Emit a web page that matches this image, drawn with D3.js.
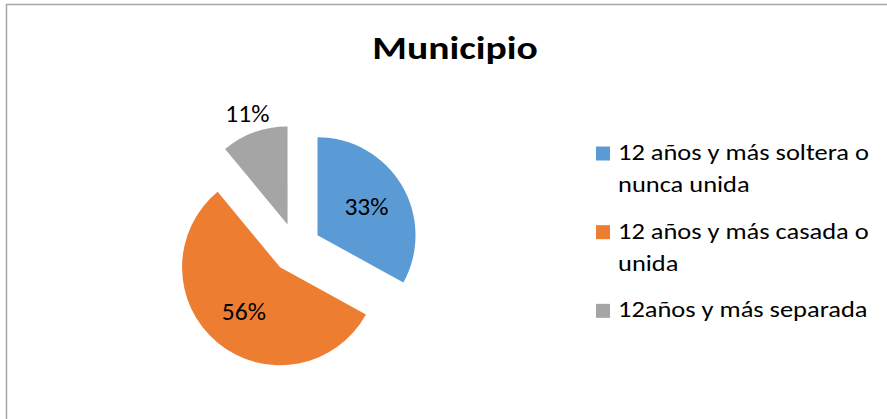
<!DOCTYPE html>
<html>
<head>
<meta charset="utf-8">
<script src="https://cdn.jsdelivr.net/npm/d3@7"></script>
<style>
    body { margin: 0; background: #fff; }
    svg { display: block; font-family: Carlito, Calibri, Lato, sans-serif; }
</style>
</head>
<body>
<svg id="chart" width="887" height="419"></svg>
<script>

// ========== DATA ==========

const categories = ["soltera", "casada", "separada"];
const values = [33, 56, 11];
const legendLabels = [
    ["12 años y más soltera o", "nunca unida"],
    ["12 años y más casada o", "unida"],
    ["12años y más separada"]
];
const chartTitle = "Municipio";

const colors = d3.scaleOrdinal()
    .domain(categories)
    .range(['#5B9BD5', '#ED7D31', '#A5A5A5']);


// ========== MAIN CODE ==========

const cx = 296, cy = 248;
const radius = 98;
const explode = 25;

const svg = d3.select('#chart');

// chart border (cut off at right and bottom)
svg.append('rect')
    .attr('x', 6.5)
    .attr('y', 4.5)
    .attr('width', 950)
    .attr('height', 500)
    .attr('fill', 'none')
    .attr('stroke', '#a6a6a6')
    .attr('stroke-width', 1.5);

// the original text is a bit stretched sideways
svg.append('text')
    .attr('transform', 'translate(455,59) scale(1.2,1)')
    .attr('text-anchor', 'middle')
    .style('font-size', '33px')
    .style('font-weight', 'bold')
    .attr('fill', '#000')
    .text(chartTitle);

const pie = d3.pie()
    .sort(null)
    .value((d, i) => values[i]);

const arc = d3.arc()
    .innerRadius(0)
    .outerRadius(radius);

const arcs = pie(categories);

function offset(d, dist) {
    let mid = (d.startAngle + d.endAngle) / 2;
    return [Math.sin(mid) * dist, -Math.cos(mid) * dist];
}

const g = svg.append('g')
    .attr('transform', `translate(${cx},${cy})`);

const slices = g.selectAll('g.slice')
    .data(arcs)
    .enter().append('g')
    .attr('class', 'slice')
    .attr('transform', d => `translate(${offset(d, explode)})`);

slices.append('path')
    .attr('d', arc)
    .attr('fill', d => colors(d.data));

// small slices get their label outside
slices.append('text')
    .attr('transform', function (d) {
        let small = (d.endAngle - d.startAngle) < 1;
        return `translate(${offset(d, small ? radius * 1.21 : radius * 0.58)})`;
    })
    .attr('text-anchor', 'middle')
    .attr('dy', '0.35em')
    .style('font-size', '25.5px')
    .attr('fill', '#000')
    .text(d => Math.round(d.value / d3.sum(values) * 100) + '%');

// Legend
const legendY = d3.scaleBand()
    .domain(categories)
    .range([127, 363]);

const legend = svg.selectAll('g.legend')
    .data(categories)
    .enter().append('g')
    .attr('class', 'legend')
    .attr('transform', d => `translate(596,${legendY(d)})`);

legend.append('rect')
    .attr('x', 0)
    .attr('y', 19.5)
    .attr('width', 14)
    .attr('height', 14)
    .attr('fill', d => colors(d));

legend.append('text')
    .attr('transform', 'translate(22,33) scale(1.15,1)')
    .style('font-size', '23px')
    .attr('fill', '#000')
    .selectAll('tspan')
    .data((d, i) => legendLabels[i])
    .enter().append('tspan')
    .attr('x', 0)
    .attr('dy', (d, i) => i == 0 ? 0 : 32)
    .text(d => d);

</script>
</body>
</html>
